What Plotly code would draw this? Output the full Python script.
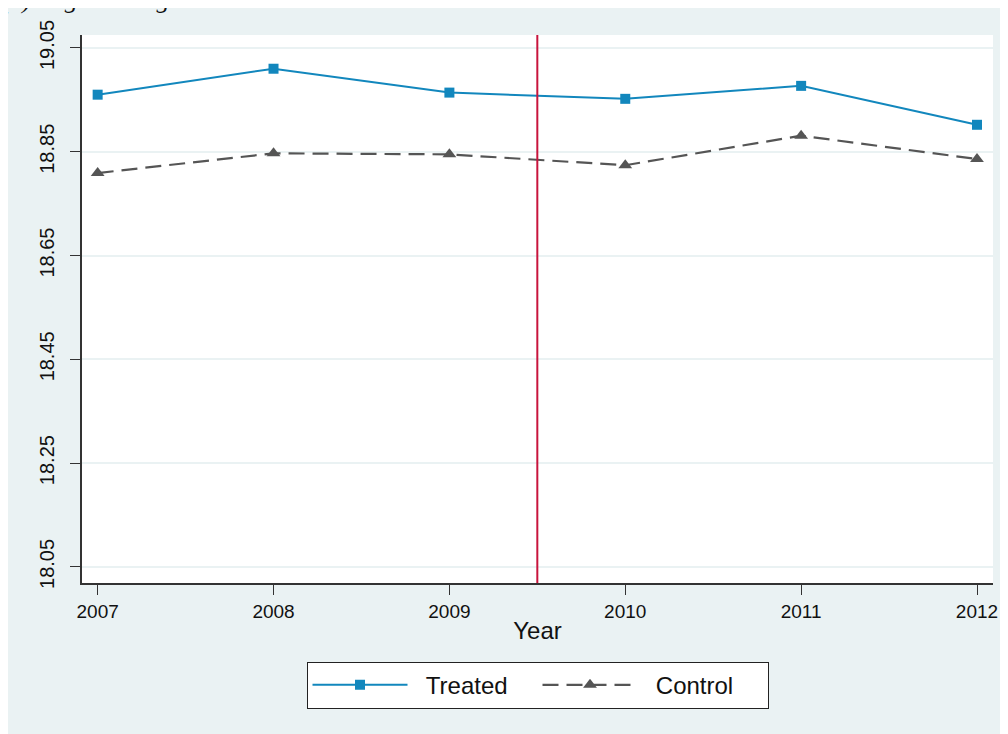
import plotly.graph_objects as go

years = [2007, 2008, 2009, 2010, 2011, 2012]
treated = [18.960, 19.010, 18.964, 18.952, 18.977, 18.902]
control = [18.809, 18.847, 18.845, 18.824, 18.881, 18.836]
y_ticks = [18.05, 18.25, 18.45, 18.65, 18.85, 19.05]
y_tick_labels = ["18.05", "18.25", "18.45", "18.65", "18.85", "19.05"]
series_names = ["\u00a0\u00a0Treated", "\u00a0\u00a0Control"]
treat_year = 2009.5

BG = "#EAF2F3"
FONT = "Liberation Sans, Arial, sans-serif"

fig = go.Figure()
fig.add_trace(go.Scatter(
    x=years, y=treated, name=series_names[0], mode="lines+markers",
    line=dict(color="#1287BD", width=2),
    marker=dict(symbol="square", size=10, color="#1287BD"),
))
fig.add_trace(go.Scatter(
    x=years, y=control, name=series_names[1], mode="lines+markers",
    line=dict(color="#555555", width=2.2, dash="16px,8px"),
    marker=dict(symbol="triangle-up", size=12, color="#555555"),
))

W, H = 1008, 734
ml, mr, mt, mb = 74, 23, 25, 159
PW, PH = W - ml - mr, H - mt - mb

shapes = [
    dict(type="line", xref="x", yref="paper", x0=treat_year, x1=treat_year,
         y0=0, y1=1, line=dict(color="#C8143C", width=2)),
]

fig.update_layout(
    width=W, height=H,
    margin=dict(l=ml, r=mr, t=mt, b=mb, pad=0),
    paper_bgcolor=BG, plot_bgcolor="white",
    font=dict(family=FONT, color="#111111", size=18),
    shapes=shapes,
    showlegend=True,
    legend=dict(
        orientation="h", x=0.5, xanchor="center", y=-79 / PH, yanchor="top",
        bgcolor="white", bordercolor="#222222", borderwidth=1,
        font=dict(size=24, family=FONT), itemwidth=95, entrywidth=120,
        traceorder="normal",
    ),
    xaxis=dict(
        range=[2006.911, 2012.091], tickvals=years,
        ticks="outside", ticklen=10, tickcolor="#333333",
        showline=True, linecolor="#333333", linewidth=1.5,
        showgrid=False, zeroline=False,
        tickfont=dict(size=19),
        title=dict(text="Year", font=dict(size=24), standoff=2),
    ),
    yaxis=dict(
        range=[18.019, 19.075], tickvals=y_ticks, ticktext=y_tick_labels,
        tickangle=-90,
        ticks="outside", ticklen=10, tickcolor="#333333",
        showline=True, linecolor="#333333", linewidth=1.5,
        showgrid=True, gridcolor=BG, gridwidth=1.5, zeroline=False,
        tickfont=dict(size=20), ticklabelstandoff=8,
    ),
    annotations=[
        dict(text="<i>(c) Log Earnings</i>", xref="paper", yref="paper",
             x=-(ml + 8) / PW, xanchor="left",
             y=1 + (mt - 6) / PH, yanchor="bottom",
             showarrow=False,
             font=dict(family="Liberation Serif, Times New Roman, serif", size=26, color="#111111")),
    ],
)

fig.write_html("out.html")
